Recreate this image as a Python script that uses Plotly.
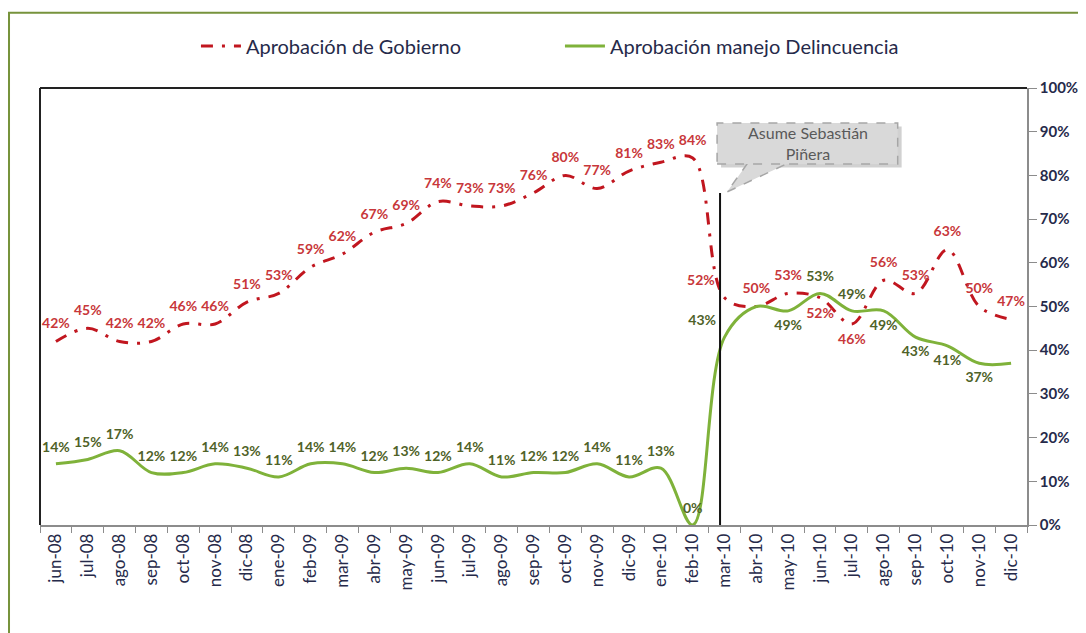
import plotly.graph_objects as go

# months on the category axis
months = ["jun-08", "jul-08", "ago-08", "sep-08", "oct-08", "nov-08", "dic-08",
          "ene-09", "feb-09", "mar-09", "abr-09", "may-09", "jun-09", "jul-09",
          "ago-09", "sep-09", "oct-09", "nov-09", "dic-09", "ene-10", "feb-10",
          "mar-10", "abr-10", "may-10", "jun-10", "jul-10", "ago-10", "sep-10",
          "oct-10", "nov-10", "dic-10"]

# approval values (%)
gobierno = [42, 45, 42, 42, 46, 46, 51, 53, 59, 62, 67, 69, 74, 73, 73, 76, 80,
            77, 81, 83, 84, 52, 50, 53, 52, 46, 56, 53, 63, 50, 47]
delincuencia = [14, 15, 17, 12, 12, 14, 13, 11, 14, 14, 12, 13, 12, 14, 11, 12, 12,
                14, 11, 13, 0, 43, 50, 49, 53, 49, 49, 43, 41, 37, 37]

# months without a data label on the green series
sin_etiqueta = ["abr-10", "dic-10"]

y_ticks = list(range(0, 101, 10))

# label placement
gob_pos = ["top center"] * len(months)
gob_pos[months.index("mar-10")] = "top left"
gob_pos[months.index("jun-10")] = "bottom center"
gob_pos[months.index("jul-10")] = "bottom center"

del_pos = ["top center"] * len(months)
del_pos[months.index("mar-10")] = "top left"
for m in ["may-10", "ago-10", "sep-10", "oct-10", "nov-10"]:
    del_pos[months.index(m)] = "bottom center"

RED = "#C1161F"
RED_TXT = "#C8373A"
GREEN = "#7FB23A"
GREEN_TXT = "#4F6228"
NAVY = "#262A4A"
AXIS = "#8C8C8C"
FONT = "Lato"

fig = go.Figure()

fig.add_trace(go.Scatter(
    x=months, y=gobierno, name="Aprobación de Gobierno",
    mode="lines+markers+text",
    line=dict(color=RED, width=3, dash="12px,9px,3px,9px", shape="spline", smoothing=1.0),
    marker=dict(size=14, color="rgba(0,0,0,0)"),
    text=[f"{v}%" for v in gobierno], textposition=gob_pos,
    textfont=dict(family=FONT, size=14, color=RED_TXT, weight="bold"),
    cliponaxis=False,
))

fig.add_trace(go.Scatter(
    x=months, y=delincuencia, name="Aprobación manejo Delincuencia",
    mode="lines+markers+text",
    line=dict(color=GREEN, width=3, shape="spline", smoothing=1.0),
    marker=dict(size=12, color="rgba(0,0,0,0)"),
    text=["" if m in sin_etiqueta else f"{v}%" for m, v in zip(months, delincuencia)],
    textposition=del_pos,
    textfont=dict(family=FONT, size=14, color=GREEN_TXT, weight="bold"),
    cliponaxis=False,
))

shapes = [
    # outer green frame
    dict(type="rect", xref="paper", yref="paper", x0=-0.0314, x1=1.08, y0=-0.28, y1=1.172,
         line=dict(color="#77933C", width=2), layer="below"),
    # black left / top border of plot area
    dict(type="line", xref="paper", yref="paper", x0=0, x1=0, y0=0, y1=1,
         line=dict(color="#222222", width=2)),
    dict(type="line", xref="paper", yref="paper", x0=0, x1=1, y0=1, y1=1,
         line=dict(color="#222222", width=2)),
    # vertical marker at change of government
    dict(type="line", xref="paper", yref="paper", x0=0.689, x1=0.689, y0=0, y1=0.76,
         line=dict(color="#111111", width=2)),
    # callout shadow
    dict(type="rect", xref="paper", yref="paper", x0=0.690, x1=0.873, y0=0.818, y1=0.912,
         fillcolor="rgba(0,0,0,0.18)", line=dict(width=0)),
    # callout tail
    dict(type="path", xref="paper", yref="paper",
         path="M 0.717,0.828 L 0.696,0.762 L 0.758,0.828 Z",
         fillcolor="#D9D9D9", line=dict(color="#A6A6A6", width=1.5, dash="dash")),
    # callout box
    dict(type="rect", xref="paper", yref="paper", x0=0.686, x1=0.869, y0=0.826, y1=0.920,
         fillcolor="#D9D9D9", line=dict(color="#A6A6A6", width=1.5, dash="dash")),
]

fig.add_annotation(
    xref="paper", yref="paper", x=0.778, y=0.873, xanchor="center", yanchor="middle",
    showarrow=False, text="Asume Sebastián<br>Piñera", align="center",
    font=dict(family=FONT, size=16, color="#595959"),
)

# the page body adds an 8px offset, so the figure is 8px smaller than the window
fig.update_layout(
    width=1078, height=625,
    margin=dict(l=32, r=59, t=80, b=108, autoexpand=False),
    paper_bgcolor="white", plot_bgcolor="white",
    shapes=shapes,
    showlegend=True,
    legend=dict(orientation="h", x=0.158, y=1.096, xanchor="left", yanchor="middle",
                entrywidth=309, entrywidthmode="pixels",
                font=dict(family=FONT, size=20, color=NAVY), itemwidth=40),
    font=dict(family=FONT, color=NAVY),
)

fig.update_xaxes(
    type="category", range=[-0.5, len(months) - 0.5], automargin=False,
    tickangle=-90, tickson="boundaries", ticks="outside", ticklen=6,
    tickcolor=AXIS, showline=True, linecolor=AXIS, linewidth=1.5,
    showgrid=False, tickfont=dict(family=FONT, size=17, color=NAVY),
)

fig.update_yaxes(
    side="right", range=[0, 100], automargin=False,
    tickvals=y_ticks, ticktext=[f"{t}%" for t in y_ticks],
    ticks="outside", ticklen=8, tickcolor=AXIS,
    showline=True, linecolor=AXIS, linewidth=1.5, showgrid=False, zeroline=False,
    tickfont=dict(family=FONT, size=15, color=NAVY, weight="bold"),
)

fig.write_html("out.html")
